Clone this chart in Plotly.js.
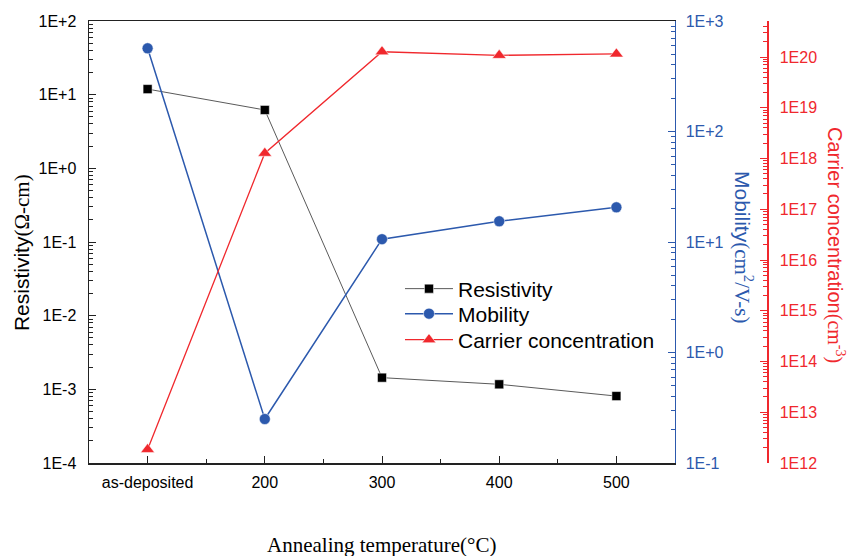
<!DOCTYPE html>
<html>
<head>
<meta charset="utf-8">
<script src="https://cdn.plot.ly/plotly-3.0.1.min.js"></script>
<style>html,body{margin:0;padding:0;background:#fff;}#chart{width:848px;height:556px;}</style>
</head>
<body>
<div id="chart"></div>
<script>
const categories = ['as-deposited', '200', '300', '400', '500'];
const resistivity = [11.9, 6.2, 1.44e-3, 1.17e-3, 8.1e-4];
const mobility = [566, 0.25, 10.6, 15.4, 20.6];
const carrier = [1.85e12, 1.27e18, 1.27e20, 1.08e20, 1.15e20];

const resTickVals = [1e-4, 1e-3, 1e-2, 1e-1, 1, 10, 100];
const resTickText = ['1E-4', '1E-3', '1E-2', '1E-1', '1E+0', '1E+1', '1E+2'];
const mobTickVals = [0.1, 1, 10, 100, 1000];
const mobTickText = ['1E-1', '1E+0', '1E+1', '1E+2', '1E+3'];
const carTickVals = [1e12, 1e13, 1e14, 1e15, 1e16, 1e17, 1e18, 1e19, 1e20];
const carTickText = ['1E12', '1E13', '1E14', '1E15', '1E16', '1E17', '1E18', '1E19', '1E20'];

const BLUE = '#2c59ad';
const RED = '#f0282d';
const SANS = 'Liberation Sans, Arial, sans-serif';
const SERIF = 'Liberation Serif, Times New Roman, serif';

const xs = categories.map((c, i) => i);

const traces = [
  {
    x: xs, y: resistivity, name: 'Resistivity', yaxis: 'y', legend: 'legend',
    mode: 'lines+markers', type: 'scatter',
    line: {color: '#5a5a5a', width: 1},
    marker: {symbol: 'square', size: 9, color: '#000000', line: {color: '#ffffff', width: 0.5}}
  },
  {
    x: xs, y: mobility, name: 'Mobility', yaxis: 'y2', legend: 'legend2',
    mode: 'lines+markers', type: 'scatter',
    line: {color: BLUE, width: 1.5},
    marker: {symbol: 'circle', size: 11, color: BLUE, line: {color: '#ffffff', width: 0.5}}
  },
  {
    x: xs, y: carrier, name: 'Carrier concentration', yaxis: 'y3', legend: 'legend3',
    mode: 'lines+markers', type: 'scatter',
    line: {color: RED, width: 1.3},
    marker: {symbol: 'triangle-up', size: 12, color: RED, line: {color: '#ffffff', width: 0.5}}
  }
];

function legendAt(yPaper) {
  return {
    x: 0.4587, y: yPaper, xanchor: 'left', yanchor: 'middle',
    bgcolor: 'rgba(0,0,0,0)', borderwidth: 0, itemwidth: 48,
    font: {family: SANS, size: 21, color: '#000'}
  };
}

const layout = {
  width: 848, height: 556,
  margin: {l: 89, r: 81, t: 21, b: 93},
  paper_bgcolor: '#ffffff', plot_bgcolor: '#ffffff',
  font: {family: SANS, size: 16, color: '#000'},
  showlegend: true,
  legend: legendAt(0.3937),
  legend2: legendAt(0.3371),
  legend3: legendAt(0.2783),
  xaxis: {
    domain: [0, 0.8643],
    type: 'linear', range: [-0.5, 4.5],
    tickmode: 'array', tickvals: xs, ticktext: categories,
    ticks: 'inside', ticklen: 7, tickwidth: 1, tickcolor: '#222',
    minor: {tickmode: 'array', tickvals: [0.5, 1.5, 2.5, 3.5], ticks: 'inside', ticklen: 4, tickcolor: '#222'},
    showline: true, linecolor: '#222', linewidth: 1.5, mirror: true,
    showgrid: false, zeroline: false,
    tickfont: {family: SANS, size: 16, color: '#000'},
    ticklabelstandoff: 4
  },
  yaxis: {
    type: 'log', range: [-4, 2],
    tickmode: 'array', tickvals: resTickVals, ticktext: resTickText,
    ticks: 'inside', ticklen: 7, tickwidth: 1, tickcolor: '#222',
    minor: {dtick: 'D1', ticks: 'inside', ticklen: 4, tickcolor: '#222'},
    showline: true, linecolor: '#222', linewidth: 1.5,
    showgrid: false, zeroline: false,
    tickfont: {family: SANS, size: 16, color: '#000'},
    ticklabelstandoff: 8
  },
  yaxis2: {
    type: 'log', range: [-1, 3],
    overlaying: 'y', side: 'right', anchor: 'x',
    tickmode: 'array', tickvals: mobTickVals, ticktext: mobTickText,
    ticks: 'inside', ticklen: 7, tickwidth: 1, tickcolor: BLUE,
    minor: {dtick: 'D1', ticks: 'inside', ticklen: 4, tickcolor: BLUE},
    showline: true, linecolor: BLUE, linewidth: 1.5,
    showgrid: false, zeroline: false,
    tickfont: {family: SANS, size: 16, color: BLUE},
    ticklabelstandoff: 6
  },
  yaxis3: {
    type: 'log', range: [12, 20.71],
    overlaying: 'y', side: 'right', anchor: 'free', position: 1,
    tickmode: 'array', tickvals: carTickVals, ticktext: carTickText,
    ticks: 'inside', ticklen: 7, tickwidth: 1, tickcolor: RED,
    minor: {dtick: 'D1', ticks: 'inside', ticklen: 4, tickcolor: RED},
    showline: true, linecolor: RED, linewidth: 1.5,
    showgrid: false, zeroline: false,
    tickfont: {family: SANS, size: 16, color: RED},
    ticklabelstandoff: 8
  },
  annotations: [
    {
      xref: 'paper', yref: 'paper', x: -0.0988, y: 0.475, xanchor: 'center', yanchor: 'middle',
      text: 'Resistivity<span style="font-family:Liberation Serif">(Ω-cm)</span>',
      textangle: -90, showarrow: false,
      font: {family: SANS, size: 21, color: '#000'}
    },
    {
      xref: 'paper', yref: 'paper', x: 0.9646, y: 0.4887, xanchor: 'center', yanchor: 'middle',
      text: 'Mobility<span style="font-family:Liberation Serif">(cm<sup>2</sup>/V-s)</span>',
      textangle: 90, showarrow: false,
      font: {family: SANS, size: 21, color: BLUE}
    },
    {
      xref: 'paper', yref: 'paper', x: 1.1018, y: 0.4932, xanchor: 'center', yanchor: 'middle',
      text: 'Carrier concentration<span style="font-family:Liberation Serif">(cm<sup>-3</sup>)</span>',
      textangle: 90, showarrow: false,
      font: {family: SANS, size: 20, color: RED}
    },
    {
      xref: 'paper', yref: 'paper', x: 0.432, y: -0.1855, xanchor: 'center', yanchor: 'middle',
      text: 'Annealing temperature(°C)',
      showarrow: false,
      font: {family: SERIF, size: 21, color: '#000'}
    }
  ]
};

Plotly.newPlot('chart', traces, layout, {displayModeBar: false, staticPlot: true});
</script>
</body>
</html>
